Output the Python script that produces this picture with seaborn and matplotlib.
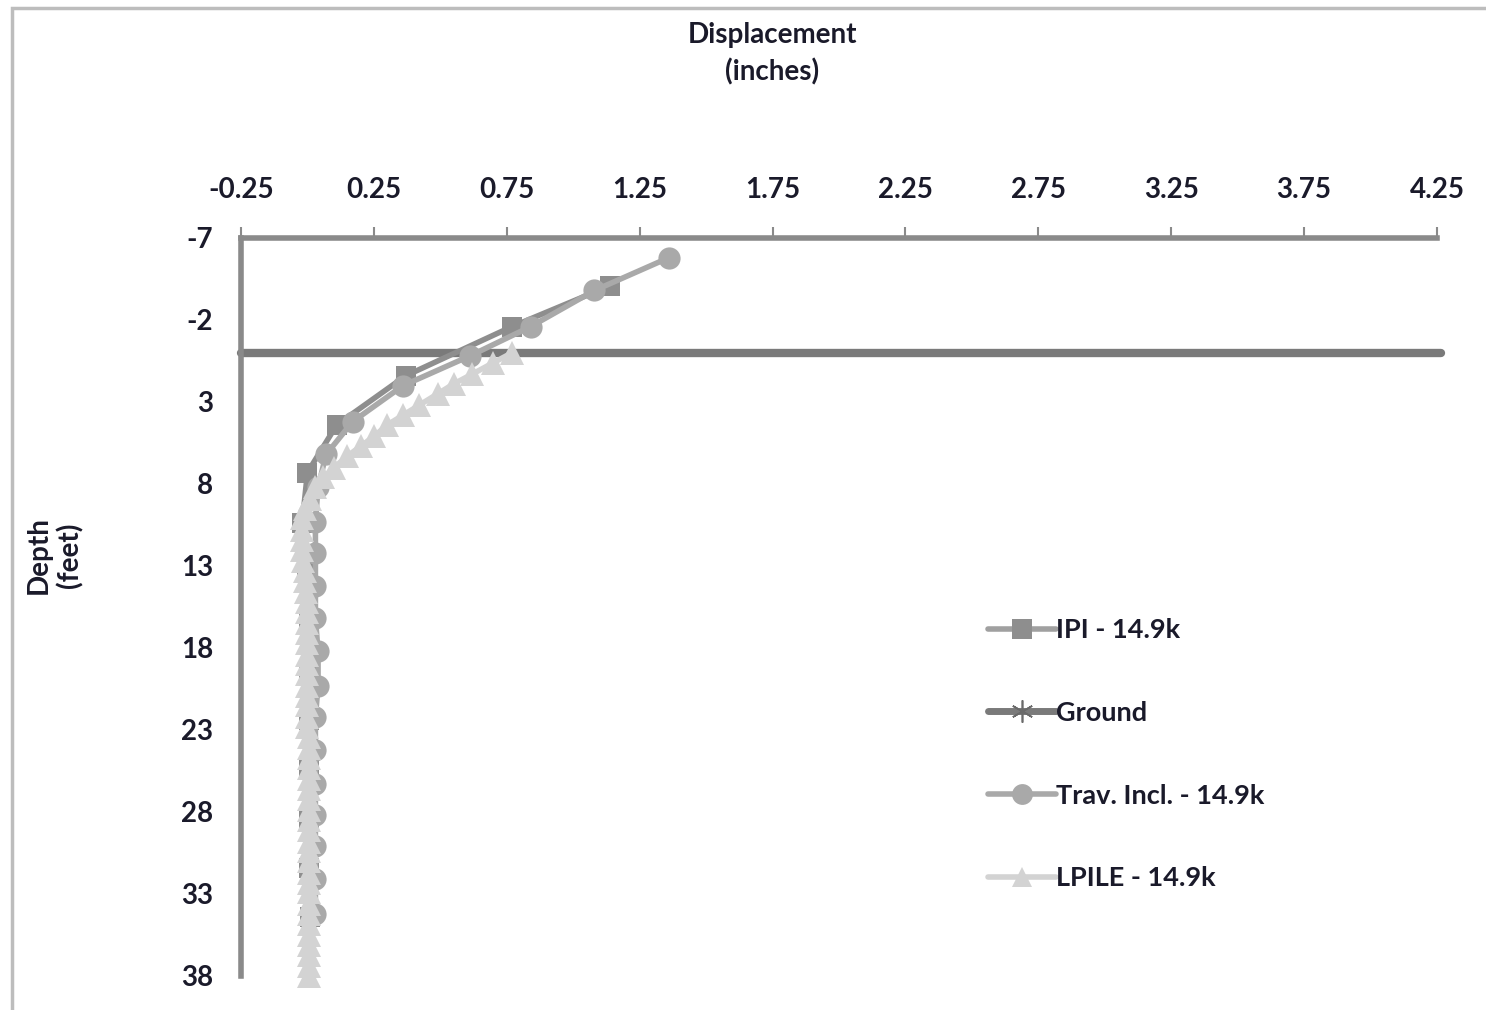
import matplotlib
matplotlib.use("Agg")
import matplotlib.pyplot as plt
from matplotlib.lines import Line2D
from matplotlib.patches import Rectangle
import seaborn as sns
import pandas as pd

# ---------------- data ----------------
ipi_depth = [-4.1, -1.6, 1.4, 4.4, 7.3, 10.4, 13.4, 16.4, 19.4, 22.4, 25.4, 28.4, 31.4, 34.4]
ipi_disp = [1.14, 0.77, 0.37, 0.11, 0.0, -0.02, 0.0, 0.005, 0.005, 0.005, 0.005, 0.005, 0.005, 0.01]

ground_depth = [0.0, 0.0]
ground_disp = [-0.25, 4.265]

trav_depth = [-5.8, -3.8, -1.6, 0.2, 2.0, 4.2, 6.2, 8.2, 10.3, 12.2, 14.2, 16.2, 18.2,
              20.3, 22.2, 24.2, 26.3, 28.2, 30.1, 32.1, 34.2]
trav_disp = [1.36, 1.08, 0.84, 0.61, 0.36, 0.17, 0.07, 0.04, 0.03, 0.03, 0.03, 0.03, 0.04,
             0.04, 0.03, 0.03, 0.03, 0.03, 0.03, 0.03, 0.03]

lpile_depth = [0.0, 0.6, 1.3, 1.9, 2.5, 3.2, 3.8, 4.4, 5.1, 5.7, 6.3, 7.0, 7.6, 8.2, 8.9,
               9.5, 10.1, 10.8, 11.4, 12.0, 12.7, 13.3, 13.9, 14.6, 15.2, 15.8, 16.5, 17.1,
               17.7, 18.4, 19.0, 19.6, 20.3, 20.9, 21.5, 22.2, 22.8, 23.4, 24.1, 24.7, 25.3,
               26.0, 26.6, 27.2, 27.9, 28.5, 29.1, 29.8, 30.4, 31.0, 31.7, 32.3, 32.9, 33.6,
               34.2, 34.8, 35.5, 36.1, 36.7, 37.4, 38.0]
lpile_disp = [0.77, 0.70, 0.62, 0.55, 0.49, 0.42, 0.36, 0.30, 0.25, 0.20, 0.15, 0.10, 0.06,
              0.03, 0.01, -0.01, -0.02, -0.02, -0.02, -0.02, -0.015, -0.01, -0.01, -0.005,
              0.0, 0.0, 0.0, 0.0, 0.0, 0.0, 0.0, 0.0, 0.0, 0.0, 0.0, 0.0, 0.0, 0.005, 0.005,
              0.005, 0.005, 0.005, 0.005, 0.005, 0.005, 0.005, 0.005, 0.005, 0.005, 0.005,
              0.005, 0.005, 0.005, 0.005, 0.005, 0.005, 0.005, 0.005, 0.005, 0.005, 0.005]

x_ticks = [-0.25, 0.25, 0.75, 1.25, 1.75, 2.25, 2.75, 3.25, 3.75, 4.25]
y_ticks = [-7, -2, 3, 8, 13, 18, 23, 28, 33, 38]

series_names = ["IPI - 14.9k", "Ground", "Trav. Incl. - 14.9k", "LPILE - 14.9k"]

# ---------------- style ----------------
sns.set_style("white")
plt.rcParams["font.family"] = ["Lato", "DejaVu Sans"]

W, H = 1486, 1010
fig = plt.figure(figsize=(W / 100, H / 100), dpi=100)
AX_L, AX_R, AX_T, AX_B = 241, 1437, 238, 976
ax = fig.add_axes([AX_L / W, 1 - AX_B / H, (AX_R - AX_L) / W, (AX_B - AX_T) / H])

def ax_x(px):
    return (px - AX_L) / (AX_R - AX_L)

def ax_y(py):
    return (AX_B - py) / (AX_B - AX_T)

c_ipi = "#8e8e8e"
c_ground = "#7a7a7a"
c_trav = "#a9a9a9"
c_lpile = "#d3d3d3"
txt = "#1a1a2a"

df_ipi = pd.DataFrame({"disp": ipi_disp, "depth": ipi_depth})
df_ground = pd.DataFrame({"disp": ground_disp, "depth": ground_depth})
df_trav = pd.DataFrame({"disp": trav_disp, "depth": trav_depth})
df_lpile = pd.DataFrame({"disp": lpile_disp, "depth": lpile_depth})

sns.lineplot(data=df_ipi, x="disp", y="depth", sort=False, estimator=None, ax=ax,
             color=c_ipi, lw=4, marker="s", markersize=15, markeredgewidth=0,
             markerfacecolor=c_ipi, zorder=3)
sns.lineplot(data=df_ground, x="disp", y="depth", sort=False, estimator=None, ax=ax,
             color=c_ground, lw=6, zorder=2, clip_on=False)
sns.lineplot(data=df_trav, x="disp", y="depth", sort=False, estimator=None, ax=ax,
             color=c_trav, lw=4, marker="o", markersize=16, markeredgewidth=0,
             markerfacecolor=c_trav, zorder=4, clip_on=False)
sns.lineplot(data=df_lpile, x="disp", y="depth", sort=False, estimator=None, ax=ax,
             color=c_lpile, lw=4, marker="^", markersize=17, markeredgewidth=0,
             markerfacecolor=c_lpile, zorder=5, clip_on=False)

ax.set_xlim(-0.25, 4.25)
ax.set_ylim(38, -7)
ax.set_xticks(x_ticks)
ax.set_xticklabels([f"{v:.2f}" for v in x_ticks])
ax.set_yticks(y_ticks)
ax.set_yticklabels([str(v) for v in y_ticks])
ax.xaxis.tick_top()
ax.xaxis.set_label_position("top")

for s in ["right", "bottom"]:
    ax.spines[s].set_visible(False)
for s in ["top", "left"]:
    ax.spines[s].set_color("#8a8a8a")
    ax.spines[s].set_linewidth(4)

ax.tick_params(axis="x", which="major", direction="out", length=8, width=1.5,
               color="#8a8a8a", pad=17, labelsize=20, labelcolor=txt)
ax.tick_params(axis="y", which="major", direction="out", length=8, width=1.5,
               color="#8a8a8a", pad=12, labelsize=20, labelcolor=txt)
for lab in ax.get_xticklabels() + ax.get_yticklabels():
    lab.set_fontweight("bold")
ax.grid(False)

ax.set_xlabel("Displacement\n(inches)", fontsize=20, fontweight="bold",
              color=txt, linespacing=1.45, va="center", ha="center")
ax.xaxis.set_label_coords(ax_x(772), ax_y(54))
ax.set_ylabel("Depth\n(feet)", fontsize=20, fontweight="bold",
              color=txt, linespacing=1.2, va="center", ha="center")
ax.yaxis.set_label_coords(ax_x(55), ax_y(555))

handles = [
    Line2D([], [], color="#a0a0a0", lw=4, marker="s", markersize=15,
           markerfacecolor=c_ipi, markeredgewidth=0),
    Line2D([], [], color=c_ground, lw=5, marker=(6, 2, 0), markersize=16,
           markeredgecolor="#6a6a6a", markeredgewidth=1.2),
    Line2D([], [], color=c_trav, lw=4, marker="o", markersize=15,
           markerfacecolor=c_trav, markeredgewidth=0),
    Line2D([], [], color=c_lpile, lw=4, marker="^", markersize=15,
           markerfacecolor=c_lpile, markeredgewidth=0),
]
leg = ax.legend(handles, series_names, loc="upper left",
                bbox_to_anchor=(ax_x(988), ax_y(618)),
                frameon=False, prop={"size": 19.5, "weight": "bold"},
                handlelength=2.5, handletextpad=0.0,
                labelspacing=2.17, borderaxespad=0, borderpad=0)
for t in leg.get_texts():
    t.set_color(txt)

# figure frame (top and left edges)
fig.patches.append(Rectangle((12 / W, -0.2), 1.2, 1.2 - 8 / H,
                             transform=fig.transFigure, fill=False,
                             edgecolor="#bdbdbd", lw=2.5, zorder=0))

fig.savefig("out.png", dpi=100)
